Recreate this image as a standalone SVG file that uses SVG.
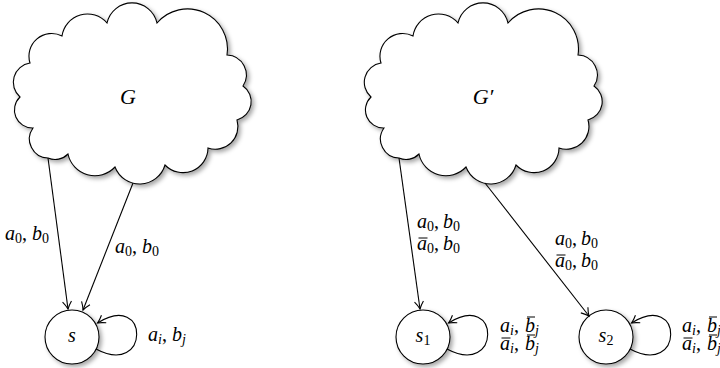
<svg xmlns="http://www.w3.org/2000/svg" width="720" height="368" viewBox="0 0 720 368">
<style>
.ln{fill:none;stroke:#000;stroke-width:1.1}
.nd{fill:#fff;stroke:#000;stroke-width:1.1}
.bar{stroke:#000;stroke-width:1}
.t{font-family:"Liberation Serif","Times New Roman",serif;font-size:20px;fill:#000}
.i{font-style:italic}
.s{font-size:14px}
.big{font-size:22px}
</style>
<defs>
<filter id="sh" x="-10%" y="-10%" width="130%" height="130%">
<feDropShadow dx="2.5" dy="2.5" stdDeviation="2" flood-color="#000" flood-opacity="0.35"/>
</filter>
<marker id="ar" viewBox="-9 -6 11 12" refX="0" refY="0" markerWidth="11" markerHeight="12" orient="auto" markerUnits="userSpaceOnUse">
<path d="M-7.5,-4.5 C-4.5,-2.2 -1.5,-0.6 0,0 C-1.5,0.6 -4.5,2.2 -7.5,4.5" fill="none" stroke="#000" stroke-width="1.1"/>
</marker>
<path id="cloud" d="M62,36 A25.7,25.7 0 0 1 107,23 A25.6,25.6 0 0 1 157,23 A40,40 0 0 1 227,55 A20,20 0 0 1 243,86 A19,19 0 0 1 237,120 A22.7,22.7 0 0 1 208,148 A25,25 0 0 1 165,165 A26.4,26.4 0 0 1 115,167 A27.5,27.5 0 0 1 68,154 A18,18 0 0 1 48,158 A19,19 0 0 1 33,128 A18,18 0 0 1 20,97 A19.5,19.5 0 0 1 30,63 A22.7,22.7 0 0 1 62,36 Z"/>
</defs>
<rect width="720" height="368" fill="#fff"/>

<g id="G">
<use href="#cloud" class="nd" filter="url(#sh)"/>
<text class="t i big" x="128" y="104" text-anchor="middle">G</text>
</g>
<g id="Gp">
<use href="#cloud" class="nd" filter="url(#sh)" transform="translate(351,0)"/>
<text class="t i big" x="483" y="104" text-anchor="middle">G′</text>
</g>

<g id="s">
<circle cx="72" cy="337" r="27" class="nd" filter="url(#sh)"/>
<text class="t i" x="72" y="342" text-anchor="middle">s</text>
</g>
<g id="s1">
<circle cx="423" cy="337" r="27" class="nd" filter="url(#sh)"/>
<text class="t" x="423" y="342" text-anchor="middle"><tspan class="i">s</tspan><tspan class="s" dy="3">1</tspan></text>
</g>
<g id="s2">
<circle cx="606" cy="337" r="27" class="nd" filter="url(#sh)"/>
<text class="t" x="606" y="342" text-anchor="middle"><tspan class="i">s</tspan><tspan class="s" dy="3">2</tspan></text>
</g>

<g id="connectors">
<path class="ln" d="M48,158 L68,309" marker-end="url(#ar)"/>
<path class="ln" d="M133,183 L83,310" marker-end="url(#ar)"/>
<path class="ln" d="M96,349 C150,378 150,290 97.5,323" marker-end="url(#ar)"/>
<path class="ln" d="M399,158 L420,309" marker-end="url(#ar)"/>
<path class="ln" d="M485,183 L589,316" marker-end="url(#ar)"/>
<path class="ln" d="M447,349 C501,378 501,290 448.5,323" marker-end="url(#ar)"/>
<path class="ln" d="M630,349 C684,378 684,290 631.5,323" marker-end="url(#ar)"/>
</g>

<g id="labels">
<text class="t" x="5" y="240"><tspan class="i">a</tspan><tspan class="s" dy="3">0</tspan><tspan dy="-3">,</tspan><tspan class="i" x="32">b</tspan><tspan class="s" dy="3">0</tspan></text>
<text class="t" x="115" y="253"><tspan class="i">a</tspan><tspan class="s" dy="3">0</tspan><tspan dy="-3">,</tspan><tspan class="i" x="142">b</tspan><tspan class="s" dy="3">0</tspan></text>
<text class="t" x="148" y="341"><tspan class="i">a</tspan><tspan class="s i" dy="3">i</tspan><tspan dy="-3">,</tspan><tspan class="i" x="172">b</tspan><tspan class="s i" dy="3">j</tspan></text>

<text class="t" x="417" y="228"><tspan class="i">a</tspan><tspan class="s" dy="3">0</tspan><tspan dy="-3">,</tspan><tspan class="i" x="443">b</tspan><tspan class="s" dy="3">0</tspan></text>
<text class="t" x="417" y="250"><tspan class="i">a</tspan><tspan class="s" dy="3">0</tspan><tspan dy="-3">,</tspan><tspan class="i" x="443">b</tspan><tspan class="s" dy="3">0</tspan></text>
<line class="bar" x1="418.5" y1="238" x2="427.5" y2="238"/>
<text class="t" x="555" y="245"><tspan class="i">a</tspan><tspan class="s" dy="3">0</tspan><tspan dy="-3">,</tspan><tspan class="i" x="581">b</tspan><tspan class="s" dy="3">0</tspan></text>
<text class="t" x="555" y="267"><tspan class="i">a</tspan><tspan class="s" dy="3">0</tspan><tspan dy="-3">,</tspan><tspan class="i" x="581">b</tspan><tspan class="s" dy="3">0</tspan></text>
<line class="bar" x1="556.5" y1="255" x2="565.5" y2="255"/>

<text class="t" x="500" y="332"><tspan class="i">a</tspan><tspan class="s i" dy="3">i</tspan><tspan dy="-3">,</tspan><tspan class="i" x="525">b</tspan><tspan class="s i" dy="3">j</tspan></text>
<line class="bar" x1="527" y1="317" x2="535" y2="317"/>
<text class="t" x="500" y="350"><tspan class="i">a</tspan><tspan class="s i" dy="3">i</tspan><tspan dy="-3">,</tspan><tspan class="i" x="525">b</tspan><tspan class="s i" dy="3">j</tspan></text>
<line class="bar" x1="501.5" y1="338" x2="510.5" y2="338"/>
<line class="bar" x1="527" y1="335" x2="535" y2="335"/>
<text class="t" x="682" y="332"><tspan class="i">a</tspan><tspan class="s i" dy="3">i</tspan><tspan dy="-3">,</tspan><tspan class="i" x="707">b</tspan><tspan class="s i" dy="3">j</tspan></text>
<line class="bar" x1="709" y1="317" x2="717" y2="317"/>
<text class="t" x="682" y="350"><tspan class="i">a</tspan><tspan class="s i" dy="3">i</tspan><tspan dy="-3">,</tspan><tspan class="i" x="707">b</tspan><tspan class="s i" dy="3">j</tspan></text>
<line class="bar" x1="683.5" y1="338" x2="692.5" y2="338"/>
<line class="bar" x1="709" y1="335" x2="717" y2="335"/>
</g>
</svg>
